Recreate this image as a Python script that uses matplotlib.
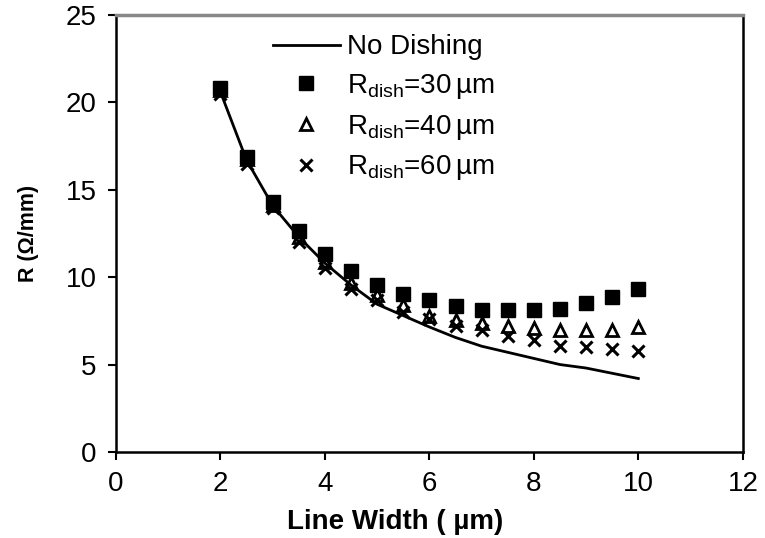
import matplotlib.pyplot as plt

plt.rcParams['font.family'] = ['Liberation Sans', 'DejaVu Sans']
plt.rcParams['mathtext.fontset'] = 'custom'
plt.rcParams['mathtext.rm'] = 'Liberation Sans'

# line width (um)
anchos = [2, 2.5, 3, 3.5, 4, 4.5, 5, 5.5, 6, 6.5, 7, 7.5, 8, 8.5, 9, 9.5, 10]
# R (ohm/mm)
sinDishing = [20.6, 16.7, 14.1, 12.3, 10.8, 9.55, 8.45, 7.8, 7.15, 6.55, 6.05, 5.7, 5.35, 5.0, 4.8, 4.5, 4.2]
r30 = [20.8, 16.9, 14.3, 12.65, 11.3, 10.35, 9.55, 9.05, 8.7, 8.35, 8.1, 8.1, 8.1, 8.2, 8.5, 8.85, 9.35]
r40 = [20.7, 16.75, 14.15, 12.3, 10.85, 9.65, 9.0, 8.4, 7.8, 7.55, 7.4, 7.2, 7.1, 7.0, 7.0, 7.0, 7.15]
r60 = [20.5, 16.5, 13.95, 12.0, 10.55, 9.35, 8.7, 8.0, 7.6, 7.2, 6.95, 6.65, 6.4, 6.05, 6.0, 5.9, 5.8]

fig = plt.figure(figsize=(7.65, 5.38), dpi=100)
ax = fig.add_axes([0.1516, 0.16, 0.8194, 0.812])

ax.plot(anchos, sinDishing, color='black', lw=2, label='No Dishing', zorder=2)
ax.plot(anchos, r30, ls='none', marker='s', ms=10, color='black',
        label=r'R$_{\mathregular{dish}}$=30$\,$µm', zorder=3)
ax.plot(anchos, r40, ls='none', marker='^', ms=9, mfc='none', mec='black', mew=2,
        label=r'R$_{\mathregular{dish}}$=40$\,$µm', zorder=3)
ax.plot(anchos, r60, ls='none', marker='x', ms=9, mec='black', mew=2.2,
        label=r'R$_{\mathregular{dish}}$=60$\,$µm', zorder=3)

ax.set_xlim(0, 12)
ax.set_ylim(0, 25)
ax.set_xticks(range(0, 13, 2))
ax.set_yticks(range(0, 26, 5))
ax.tick_params(direction='out', length=6, width=1.5, labelsize=20, colors='black', pad=8)

for lado in ['left', 'bottom', 'right']:
    ax.spines[lado].set_linewidth(1.8)
    ax.spines[lado].set_color('black')
ax.spines['top'].set_linewidth(2.5)
ax.spines['top'].set_color('#888888')

ax.set_xlabel('Line Width ( µm)', fontsize=20, fontweight='bold')
ax.set_ylabel('R (Ω/mm)', fontsize=15.5, fontweight='bold')
ax.xaxis.set_label_coords(0.445, -0.13)
ax.yaxis.set_label_coords(-0.122, 0.5)

ax.legend(loc='upper left', bbox_to_anchor=(0.233, 0.981), frameon=False, fontsize=20,
          handlelength=2.4, labelspacing=0.42, handletextpad=0.25, borderaxespad=0)

fig.savefig('out.png', dpi=100)
